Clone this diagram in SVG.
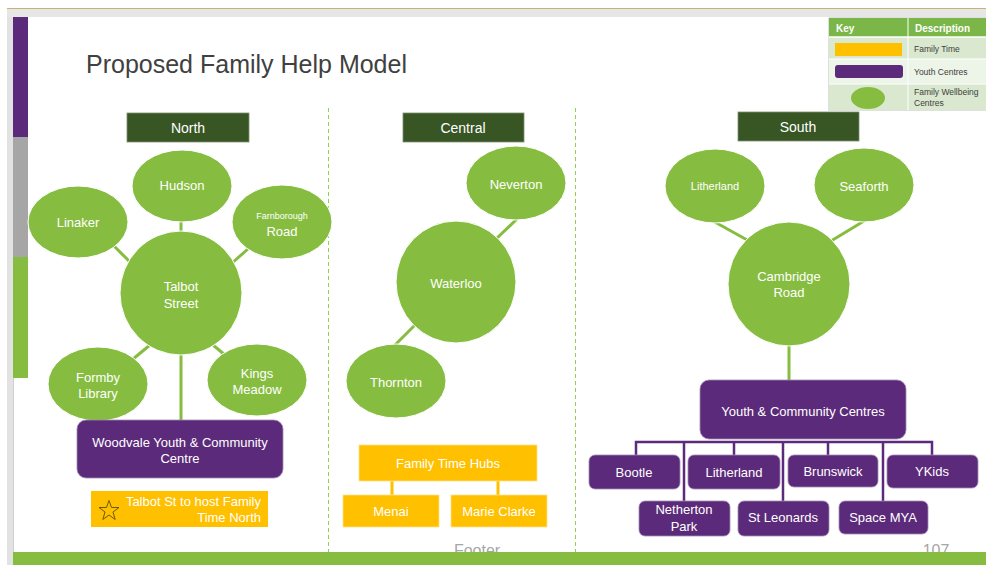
<svg xmlns="http://www.w3.org/2000/svg" width="986" height="565" viewBox="0 0 986 565">
<style>
text{font-family:"Liberation Sans",Arial,sans-serif;}
.w{fill:#ffffff;font-size:13px;text-anchor:middle;}
.hd{fill:#ffffff;font-size:14px;text-anchor:middle;}
.g{fill:#86bd40;stroke:#ffffff;stroke-width:1;}
.p{fill:#5c2a7a;stroke:#a18ab3;stroke-width:0.8;}
.y{fill:#ffc000;stroke:#ffe28a;stroke-width:0.8;}
.hdr{fill:#375623;stroke:#7f8f70;stroke-width:0.8;}
.gl{stroke:#86bd40;stroke-width:3;fill:none;}
.pl{stroke:#5c2a7a;stroke-width:2.5;fill:none;}
.yl{stroke:#ffc000;stroke-width:3;fill:none;}
.dv{stroke:#92d050;stroke-width:1;stroke-dasharray:4,3;fill:none;}
.kt{fill:#404040;font-size:8.5px;}
.kh{fill:#ffffff;font-size:10px;font-weight:bold;}
</style>
<rect x="0" y="0" width="986" height="565" fill="#ffffff"/>
<rect x="7" y="8" width="979" height="9" fill="#e6e6e6"/>
<rect x="7" y="17" width="6" height="548" fill="#e2e2e2"/>
<line x1="13.5" y1="17" x2="13.5" y2="565" stroke="#d0d0d0" stroke-width="1"/>
<line x1="7" y1="8.5" x2="986" y2="8.5" stroke="#c9b26a" stroke-width="1.2"/>
<g id="sidebar">
<rect x="13" y="17" width="15" height="120" fill="#5c2a7a"/>
<rect x="13" y="137" width="15" height="120" fill="#a6a6a6"/>
<rect x="13" y="257" width="15" height="121" fill="#86bd40"/>
</g>
<text x="86" y="73" style="font-size:25px;fill:#404040;">Proposed Family Help Model</text>
<g id="dividers">
<line class="dv" x1="328.5" y1="108" x2="328.5" y2="552"/>
<line class="dv" x1="575.5" y1="108" x2="575.5" y2="552"/>
</g>
<g id="connectors">
<line class="gl" x1="181" y1="220" x2="181" y2="234"/>
<line class="gl" x1="113" y1="245" x2="130" y2="262"/>
<line class="gl" x1="249" y1="248" x2="231" y2="264"/>
<line class="gl" x1="150" y1="345" x2="133" y2="359"/>
<line class="gl" x1="213" y1="345" x2="225" y2="355"/>
<line class="gl" x1="181" y1="353" x2="181" y2="421"/>
<line class="gl" x1="517" y1="219" x2="496" y2="239"/>
<line class="gl" x1="415" y1="325" x2="395" y2="345"/>
<line class="gl" x1="713" y1="221" x2="749" y2="241"/>
<line class="gl" x1="864" y1="221" x2="831" y2="241"/>
<line class="gl" x1="789" y1="344" x2="789" y2="381"/>
<line class="yl" x1="392" y1="480" x2="392" y2="496"/>
<line class="yl" x1="498" y1="480" x2="498" y2="496"/>
<polyline class="pl" points="636,456 636,442 932,442 932,456"/>
<line class="pl" x1="684" y1="442" x2="684" y2="502"/>
<line class="pl" x1="734" y1="442" x2="734" y2="456"/>
<line class="pl" x1="783" y1="442" x2="783" y2="502"/>
<line class="pl" x1="828" y1="442" x2="828" y2="456"/>
<line class="pl" x1="883" y1="442" x2="883" y2="502"/>
</g>
<g id="north">
<rect class="hdr" x="127" y="113" width="122" height="29"/>
<text class="hd" x="188" y="133">North</text>
<g id="hudson"><ellipse class="g" cx="182" cy="186" rx="50" ry="36"/><text class="w" x="182" y="190">Hudson</text></g>
<g id="linaker"><ellipse class="g" cx="78" cy="222" rx="50" ry="36"/><text class="w" x="78" y="227">Linaker</text></g>
<g id="farnborough"><ellipse class="g" cx="282" cy="222" rx="50" ry="37"/><text class="w" x="282" y="219" style="font-size:9px">Farnborough</text><text class="w" x="282" y="236">Road</text></g>
<g id="talbot"><ellipse class="g" cx="181" cy="293" rx="61" ry="62"/><text class="w" x="181" y="291">Talbot</text><text class="w" x="181" y="308">Street</text></g>
<g id="formby"><ellipse class="g" cx="98" cy="384" rx="50" ry="37"/><text class="w" x="98" y="382">Formby</text><text class="w" x="98" y="398">Library</text></g>
<g id="kings"><ellipse class="g" cx="257" cy="380" rx="50" ry="36"/><text class="w" x="257" y="378">Kings</text><text class="w" x="257" y="394">Meadow</text></g>
<g id="woodvale"><rect class="p" x="77" y="420" width="206" height="58" rx="9"/><text class="w" x="180" y="447">Woodvale Youth &amp; Community</text><text class="w" x="180" y="463">Centre</text></g>
<g id="talbot-note"><rect x="91" y="491" width="177" height="36" fill="#ffc000"/>
<polygon points="109,500.5 111.5,507.5 119,507.5 113,512 115.2,519.5 109,515 102.8,519.5 105,512 99,507.5 106.5,507.5" fill="none" stroke="#6b5a00" stroke-width="1"/>
<text class="w" x="261" y="506" style="text-anchor:end">Talbot St to host Family</text><text class="w" x="261" y="522" style="text-anchor:end">Time North</text></g>
</g>
<g id="central">
<rect class="hdr" x="403" y="113" width="121" height="29"/>
<text class="hd" x="463" y="133">Central</text>
<g id="neverton"><ellipse class="g" cx="516" cy="183" rx="50" ry="37"/><text class="w" x="516" y="189">Neverton</text></g>
<g id="waterloo"><ellipse class="g" cx="456" cy="282" rx="60" ry="61"/><text class="w" x="456" y="288">Waterloo</text></g>
<g id="thornton"><ellipse class="g" cx="396" cy="381" rx="50" ry="37"/><text class="w" x="396" y="387">Thornton</text></g>
<g id="hubs"><rect class="y" x="359" y="445" width="178" height="36"/><text class="w" x="448" y="468">Family Time Hubs</text></g>
<g id="menai"><rect class="y" x="343" y="495" width="96" height="32"/><text class="w" x="391" y="516">Menai</text></g>
<g id="marie"><rect class="y" x="451" y="495" width="96" height="32"/><text class="w" x="499" y="516">Marie Clarke</text></g>
</g>
<g id="south">
<rect class="hdr" x="738" y="112" width="121" height="29"/>
<text class="hd" x="798" y="132">South</text>
<g id="litherland-c"><ellipse class="g" cx="715" cy="186" rx="50" ry="37"/><text class="w" x="715" y="190" style="font-size:11px">Litherland</text></g>
<g id="seaforth"><ellipse class="g" cx="864" cy="185" rx="50" ry="37"/><text class="w" x="864" y="191">Seaforth</text></g>
<g id="cambridge"><ellipse class="g" cx="789" cy="284" rx="61" ry="62"/><text class="w" x="789" y="281">Cambridge</text><text class="w" x="789" y="297">Road</text></g>
<g id="ycc"><rect class="p" x="700" y="380" width="206" height="59" rx="9"/><text class="w" x="803" y="416">Youth &amp; Community Centres</text></g>
<g id="bootle"><rect class="p" x="589" y="455" width="91" height="34" rx="6"/><text class="w" x="634" y="477">Bootle</text></g>
<g id="litherland-y"><rect class="p" x="688" y="455" width="92" height="34" rx="6"/><text class="w" x="734" y="477">Litherland</text></g>
<g id="brunswick"><rect class="p" x="788" y="455" width="90" height="32" rx="6"/><text class="w" x="833" y="476">Brunswick</text></g>
<g id="ykids"><rect class="p" x="887" y="455" width="91" height="33" rx="6"/><text class="w" x="932" y="476">YKids</text></g>
<g id="netherton"><rect class="p" x="639" y="501" width="91" height="35" rx="6"/><text class="w" x="684" y="514">Netherton</text><text class="w" x="684" y="531">Park</text></g>
<g id="stleonards"><rect class="p" x="738" y="501" width="91" height="35" rx="6"/><text class="w" x="783" y="522">St Leonards</text></g>
<g id="spacemya"><rect class="p" x="839" y="501" width="89" height="33" rx="6"/><text class="w" x="883" y="522">Space MYA</text></g>
</g>
<g id="key">
<rect x="829" y="18" width="157" height="92" fill="#ffffff" stroke="#bfbfbf" stroke-width="1"/>
<rect x="829" y="18" width="157" height="19" fill="#7ab648"/>
<rect x="829" y="37" width="157" height="22" fill="#d9e8cf"/>
<rect x="829" y="59" width="157" height="25" fill="#edf4e8"/>
<rect x="829" y="84" width="157" height="26" fill="#d9e8cf"/>
<line x1="908" y1="18" x2="908" y2="110" stroke="#ffffff" stroke-width="1"/>
<line x1="829" y1="37" x2="986" y2="37" stroke="#ffffff" stroke-width="1.5"/>
<line x1="829" y1="59" x2="986" y2="59" stroke="#ffffff" stroke-width="1"/>
<line x1="829" y1="84" x2="986" y2="84" stroke="#ffffff" stroke-width="1"/>
<text class="kh" x="836" y="32">Key</text>
<text class="kh" x="915" y="32">Description</text>
<rect x="835" y="43" width="67" height="13" fill="#ffc000"/>
<rect x="835" y="65" width="68" height="13" rx="3" fill="#5c2a7a"/>
<ellipse cx="868" cy="98" rx="17" ry="11" fill="#86bd40"/>
<text class="kt" x="914" y="52">Family Time</text>
<text class="kt" x="914" y="75">Youth Centres</text>
<text class="kt" x="914" y="95">Family Wellbeing</text>
<text class="kt" x="914" y="106">Centres</text>
</g>
<text x="477" y="556" style="font-size:16px;fill:#a6a6a6;text-anchor:middle">Footer</text>
<text x="936" y="556" style="font-size:16px;fill:#a6a6a6;text-anchor:middle">107</text>
<rect x="13" y="552" width="973" height="13" fill="#86bd40"/>
</svg>
